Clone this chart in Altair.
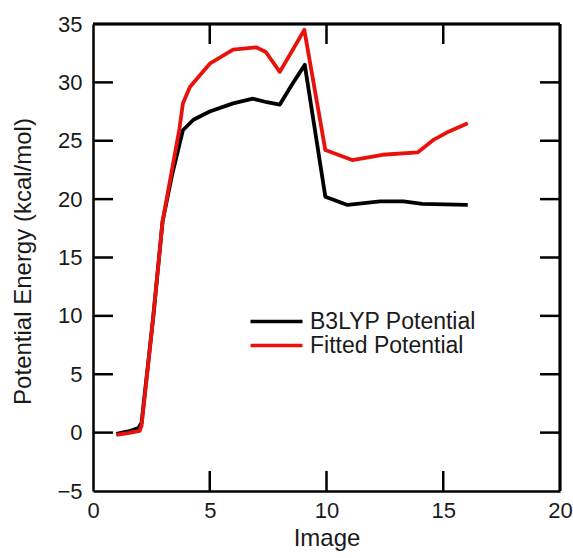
import altair as alt
import pandas as pd

# Series values
b3lyp_x = [1.0, 1.5, 1.95, 2.08, 2.58, 2.98, 3.4, 3.85, 4.3, 5.0, 6.0, 6.85, 7.45, 8.0, 8.55, 9.07, 9.95, 10.9, 12.3, 13.3, 14.1, 16.05]
b3lyp_y = [-0.1, 0.1, 0.4, 0.85, 9.9, 18.1, 22.2, 25.9, 26.8, 27.5, 28.2, 28.6, 28.3, 28.1, 29.9, 31.5, 20.2, 19.5, 19.8, 19.8, 19.6, 19.5]

fit_x = [1.0, 1.5, 2.0, 2.08, 2.58, 2.98, 3.7, 3.85, 4.15, 5.0, 6.0, 7.0, 7.4, 8.0, 8.5, 9.05, 9.95, 11.1, 12.4, 13.9, 14.6, 15.15, 16.05]
fit_y = [-0.2, -0.05, 0.15, 0.6, 9.9, 18.1, 26.0, 28.2, 29.6, 31.6, 32.8, 33.0, 32.6, 30.9, 32.6, 34.5, 24.2, 23.35, 23.8, 24.0, 25.1, 25.7, 26.5]

series_names = ["B3LYP Potential", "Fitted Potential"]
series_colors = ["#000000", "#e8120c"]

x_ticks = [0, 5, 10, 15, 20]
y_ticks = [-5, 0, 5, 10, 15, 20, 25, 30, 35]
x_inner_ticks = [5, 10, 15]
y_inner_ticks = [0, 5, 10, 15, 20, 25, 30]

W, H = 467, 467
TICK = 20
FONT = "Liberation Sans"
INK = "#1a1a1a"

df = pd.concat([
    pd.DataFrame({"x": b3lyp_x, "y": b3lyp_y, "s": series_names[0], "o": 0}),
    pd.DataFrame({"x": fit_x, "y": fit_y, "s": series_names[1], "o": 1}),
])

xscale = alt.Scale(domain=[0, 20], nice=False, zero=False)
yscale = alt.Scale(domain=[-5, 35], nice=False, zero=False)

x_axis = alt.Axis(values=x_ticks, title="Image", labelPadding=9, labelFlush=False,
                  titleY=35, titleBaseline="top")
y_axis = alt.Axis(values=y_ticks, title="Potential Energy (kcal/mol)", labelPadding=11,
                  labelFlush=False,
                  titleX=-70, titleY=237, titleBaseline="middle", titleAngle=-90)

lines = alt.Chart(df).mark_line(strokeWidth=3.8, strokeJoin="round", clip=True).encode(
    x=alt.X("x:Q", scale=xscale, axis=x_axis),
    y=alt.Y("y:Q", scale=yscale, axis=y_axis),
    color=alt.Color("s:N",
                    scale=alt.Scale(domain=series_names, range=series_colors),
                    legend=alt.Legend(title=None, orient="none", legendX=172, legendY=286,
                                      symbolType="M-4,0H4", symbolSize=169, symbolStrokeWidth=3.5,
                                      labelFontSize=23, labelFont=FONT, labelColor=INK,
                                      labelLimit=400,
                                      labelOffset=22, rowPadding=0, padding=0)),
    order="o:Q",
    detail="s:N",
)

bt = pd.DataFrame({"x": x_inner_ticks})
lt = pd.DataFrame({"y": y_inner_ticks})

rule = dict(color="black", strokeWidth=2.5)
bottom_ticks = alt.Chart(bt).mark_rule(**rule).encode(
    x=alt.X("x:Q", scale=xscale, axis=x_axis), y=alt.value(H), y2=alt.value(H - TICK))
top_ticks = alt.Chart(bt).mark_rule(**rule).encode(
    x=alt.X("x:Q", scale=xscale, axis=x_axis), y=alt.value(0), y2=alt.value(TICK))
left_ticks = alt.Chart(lt).mark_rule(**rule).encode(
    y=alt.Y("y:Q", scale=yscale, axis=y_axis), x=alt.value(0), x2=alt.value(TICK))
right_ticks = alt.Chart(lt).mark_rule(**rule).encode(
    y=alt.Y("y:Q", scale=yscale, axis=y_axis), x=alt.value(W - TICK), x2=alt.value(W))

top_frame = alt.Chart(bt).mark_rule(**rule).encode(
    x=alt.value(0), x2=alt.value(W), y=alt.value(0))
right_frame = alt.Chart(bt).mark_rule(**rule).encode(
    x=alt.value(W), y=alt.value(0), y2=alt.value(H))

chart = alt.layer(lines, bottom_ticks, top_ticks, left_ticks, right_ticks,
                  top_frame, right_frame).properties(
    width=W, height=H,
    background="white",
    autosize=alt.AutoSizeParams(type="none"),
    padding={"left": 93, "top": 24, "right": 13, "bottom": 67},
).configure_view(
    stroke=None
).configure_axis(
    domain=True, domainColor="black", domainWidth=2.5,
    ticks=False, tickSize=0, grid=False,
    labelFont=FONT, labelFontSize=22, labelColor=INK,
    titleFont=FONT, titleFontSize=24, titleColor=INK, titleFontWeight="normal",
)

chart.save("out.html", embed_options={"renderer": "svg", "actions": False})
